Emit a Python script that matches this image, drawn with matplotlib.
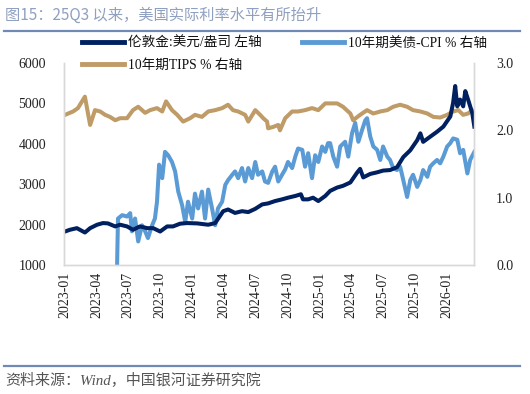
import matplotlib
matplotlib.use("Agg")
import matplotlib.pyplot as plt
from matplotlib.lines import Line2D
import pandas as pd

# ---------------- data ----------------
gold_dates = ["2023-01-01","2023-01-15","2023-02-04","2023-02-27","2023-03-14","2023-04-03","2023-04-20",
              "2023-05-04","2023-05-25","2023-06-08","2023-06-28","2023-07-15","2023-08-04","2023-08-25",
              "2023-09-11","2023-10-01","2023-10-21","2023-11-07","2023-11-27","2023-12-17","2024-01-15",
              "2024-02-16","2024-03-07","2024-03-30","2024-04-13","2024-05-03","2024-05-23","2024-06-10",
              "2024-06-30","2024-07-20","2024-08-06","2024-08-26","2024-09-15","2024-10-02","2024-10-23",
              "2024-11-08","2024-11-14","2024-11-29","2024-12-13","2024-12-28","2025-01-17","2025-01-31",
              "2025-02-20","2025-03-09","2025-03-30","2025-04-19","2025-04-27","2025-05-06","2025-05-26",
              "2025-06-15","2025-07-02","2025-07-22","2025-08-11","2025-08-29","2025-09-18","2025-10-08",
              "2025-10-17","2025-10-25","2025-11-14","2025-12-04","2025-12-22","2026-01-11","2026-01-19",
              "2026-01-25","2026-01-31","2026-02-08","2026-02-17","2026-02-23","2026-03-03","2026-03-15",
              "2026-03-21"]
gold_values = [1829, 1872, 1912, 1804, 1912, 1997, 2038,
               2030, 1955, 1997, 1955, 1872, 1955, 1912,
               1912, 1829, 1955, 1955, 2022, 2038, 2030,
               1997, 2038, 2332, 2374, 2289, 2332, 2310,
               2390, 2500, 2525, 2583, 2625, 2666, 2709,
               2751, 2625, 2625, 2666, 2583, 2709, 2834,
               2917, 2960, 3043, 3294, 3379, 3168, 3254,
               3294, 3337, 3350, 3420, 3671, 3839, 4090,
               4259, 4048, 4174, 4299, 4425, 4676, 5012,
               5430, 4927, 5095, 4927, 5304, 5095, 4761,
               4425]

cpi_dates = ["2023-05-30","2023-06-02","2023-06-14","2023-06-28","2023-07-07","2023-07-12","2023-07-21",
             "2023-07-30","2023-08-10","2023-08-19","2023-08-27","2023-09-08","2023-09-16","2023-09-22",
             "2023-09-28","2023-10-07","2023-10-15","2023-10-24","2023-11-04","2023-11-13","2023-11-22",
             "2023-12-03","2023-12-12","2023-12-20","2024-01-01","2024-01-09","2024-01-18","2024-01-29",
             "2024-02-07","2024-02-16","2024-02-27","2024-03-07","2024-03-15","2024-03-27","2024-04-05",
             "2024-04-13","2024-04-25","2024-05-03","2024-05-12","2024-05-23","2024-06-01","2024-06-10",
             "2024-06-21","2024-06-30","2024-07-08","2024-07-20","2024-07-28","2024-08-06","2024-08-18",
             "2024-08-26","2024-09-04","2024-09-15","2024-09-24","2024-10-02","2024-10-14","2024-10-23",
             "2024-10-31","2024-11-12","2024-11-20","2024-11-29","2024-12-10","2024-12-19","2024-12-28",
             "2025-01-08","2025-01-17","2025-01-25","2025-01-31","2025-02-09","2025-02-20","2025-03-01",
             "2025-03-15","2025-03-24","2025-04-04","2025-04-13","2025-04-22","2025-05-03","2025-05-12",
             "2025-05-17","2025-05-26","2025-06-04","2025-06-15","2025-06-24","2025-07-02","2025-07-14",
             "2025-07-22","2025-07-31","2025-08-11","2025-08-20","2025-08-29","2025-09-09","2025-09-18",
             "2025-09-26","2025-10-08","2025-10-17","2025-10-25","2025-11-06","2025-11-14","2025-11-23",
             "2025-12-04","2025-12-13","2025-12-22","2026-01-02","2026-01-11","2026-01-19","2026-01-31",
             "2026-02-08","2026-02-17","2026-03-01","2026-03-09","2026-03-21"]
cpi_values = [-0.10, 0.69, 0.74, 0.72, 0.77, 0.50, 0.69,
              0.35, 0.59, 0.50, 0.40, 0.59, 0.69, 0.94,
              1.49, 1.29, 1.68, 1.63, 1.53, 1.39, 1.09,
              0.89, 0.64, 0.94, 0.69, 1.06, 0.84, 1.09,
              0.69, 1.12, 0.84, 0.59, 0.84, 0.94, 1.19,
              1.26, 1.34, 1.39, 1.29, 1.44, 1.24, 1.44,
              1.29, 1.53, 1.34, 1.39, 1.24, 1.22, 1.39,
              1.46, 1.24, 1.34, 1.42, 1.53, 1.44, 1.61,
              1.73, 1.71, 1.46, 1.66, 1.29, 1.63, 1.53,
              1.76, 1.68, 1.81, 1.81, 1.61, 1.46, 1.76,
              1.83, 1.61, 1.96, 2.11, 1.83, 2.01, 2.15,
              2.18, 1.91, 1.76, 1.71, 1.56, 1.76, 1.61,
              1.56, 1.44, 1.41, 1.46, 1.26, 1.01, 1.26,
              1.34, 1.16, 1.26, 1.41, 1.31, 1.46, 1.51,
              1.56, 1.51, 1.61, 1.76, 1.81, 1.88, 1.86,
              1.66, 1.71, 1.36, 1.56, 1.68]

tips_dates = ["2023-01-01","2023-01-24","2023-02-07","2023-02-27","2023-03-14","2023-03-28","2023-04-12",
              "2023-04-26","2023-05-10","2023-05-25","2023-06-08","2023-06-28","2023-07-15","2023-07-30",
              "2023-08-19","2023-09-02","2023-09-22","2023-10-07","2023-10-18","2023-11-04","2023-11-19",
              "2023-12-06","2023-12-26","2024-01-09","2024-01-29","2024-02-16","2024-03-07","2024-03-27",
              "2024-04-13","2024-04-27","2024-05-12","2024-06-01","2024-06-10","2024-06-30","2024-07-14",
              "2024-07-23","2024-08-03","2024-08-06","2024-08-20","2024-09-04","2024-09-09","2024-09-24",
              "2024-10-14","2024-10-31","2024-11-20","2024-12-10","2024-12-28","2025-01-17","2025-01-31",
              "2025-02-20","2025-03-09","2025-03-30","2025-04-07","2025-04-27","2025-05-17","2025-06-04",
              "2025-06-24","2025-07-14","2025-07-31","2025-08-20","2025-09-09","2025-09-26","2025-10-17",
              "2025-11-06","2025-11-23","2025-12-13","2026-01-02","2026-01-19","2026-02-03","2026-02-17",
              "2026-03-03","2026-03-15","2026-03-21"]
tips_values = [2.23, 2.28, 2.33, 2.50, 2.08, 2.30, 2.28,
               2.23, 2.20, 2.15, 2.18, 2.18, 2.30, 2.35,
               2.26, 2.30, 2.33, 2.28, 2.43, 2.30, 2.23,
               2.13, 2.18, 2.23, 2.20, 2.28, 2.30, 2.33,
               2.38, 2.30, 2.28, 2.23, 2.13, 2.30, 2.23,
               2.18, 2.13, 2.03, 2.05, 2.08, 2.00, 2.18,
               2.28, 2.28, 2.30, 2.33, 2.30, 2.40, 2.40,
               2.40, 2.35, 2.25, 2.15, 2.23, 2.30, 2.25,
               2.28, 2.30, 2.35, 2.38, 2.35, 2.30, 2.28,
               2.25, 2.20, 2.19, 2.23, 2.28, 2.30, 2.23,
               2.25, 2.30, 2.25]

tick_labels = ["2023-01","2023-04","2023-07","2023-10","2024-01","2024-04","2024-07",
               "2024-10","2025-01","2025-04","2025-07","2025-10","2026-01"]
left_ticks = [1000, 2000, 3000, 4000, 5000, 6000]
right_ticks = [0.0, 1.0, 2.0, 3.0]

title = "图15：25Q3 以来，美国实际利率水平有所抬升"
source = "资料来源：Wind，中国银河证券研究院"
lbl_gold = "伦敦金:美元/盎司 左轴"
lbl_cpi = "10年期美债-CPI % 右轴"
lbl_tips = "10年期TIPS % 右轴"

# ---------------- style ----------------
NAVY = "#002060"
LBLUE = "#5B9BD5"
TAN = "#BF9B67"
num_font = ["Liberation Serif", "Noto Sans CJK SC"]
cjk_font = ["Noto Sans CJK SC", "DejaVu Sans"]
plt.rcParams["font.family"] = num_font

W, H = 530, 394
fig = plt.figure(figsize=(W / 100, H / 100), dpi=100)
ax = fig.add_axes([64 / W, 1 - 265 / H, (474 - 64) / W, (265 - 63) / H])
ax2 = ax.twinx()

gd = pd.to_datetime(gold_dates)
cd = pd.to_datetime(cpi_dates)
td = pd.to_datetime(tips_dates)

lw = 2.9
l_tips, = ax2.plot(td, tips_values, color=TAN, lw=lw, solid_joinstyle="round", label=lbl_tips)
l_cpi, = ax2.plot(cd, cpi_values, color=LBLUE, lw=lw, solid_joinstyle="round", label=lbl_cpi)
l_gold, = ax.plot(gd, gold_values, color=NAVY, lw=lw, solid_joinstyle="round", label=lbl_gold)
ax.set_zorder(ax2.get_zorder() + 1)
ax.patch.set_visible(False)

ax.set_ylim(1000, 6000)
ax2.set_ylim(0, 3.0)
ax.set_xlim(pd.Timestamp("2022-12-29"), pd.Timestamp("2026-03-20"))

ax.set_yticks(left_ticks)
ax.set_yticklabels([str(v) for v in left_ticks])
ax2.set_yticks(right_ticks)
ax2.set_yticklabels([f"{v:.1f}" for v in right_ticks])
ax.set_xticks(pd.to_datetime([t + "-01" for t in tick_labels]))
ax.set_xticklabels(tick_labels, rotation=90)

for a in (ax, ax2):
    a.tick_params(length=0, labelsize=10, colors="#222222")
    for s in ("left", "right", "bottom"):
        a.spines[s].set_color("#D9D9D9")
        a.spines[s].set_linewidth(1.0)
    a.spines["top"].set_visible(False)
ax.tick_params(axis="y", pad=13)
ax2.tick_params(axis="y", pad=16)
ax.tick_params(axis="x", pad=5)

# legend
leg = fig.legend([l_gold, l_tips, l_cpi], [lbl_gold, lbl_tips, lbl_cpi],
                 loc="upper left", bbox_to_anchor=(82 / W, 1 - 37 / H), ncol=2,
                 frameon=False, borderpad=0, borderaxespad=0, handlelength=3.1,
                 handletextpad=0.25, columnspacing=3.0, labelspacing=0.62,
                 prop={"family": num_font, "size": 9.8})
for h in leg.legend_handles:
    h.set_linewidth(3.5)
for t in leg.get_texts():
    t.set_color("#111111")

# title, lines, source
fig.text(5 / W, 1 - 15 / H, title, fontsize=11, color="#8FA0C0",
         family=cjk_font, va="center", ha="left")
fig.add_artist(Line2D([4 / W, 520 / W], [1 - 30.5 / H] * 2, color="#7189B5", lw=1.6))
fig.add_artist(Line2D([4 / W, 520 / W], [1 - 365.5 / H] * 2, color="#7189B5", lw=1.6))
fig.text(5 / W, 1 - 381 / H, source, fontsize=10.8, color="#555555", style="italic",
         family=num_font, va="center", ha="left")

fig.savefig("out.png", dpi=100)
